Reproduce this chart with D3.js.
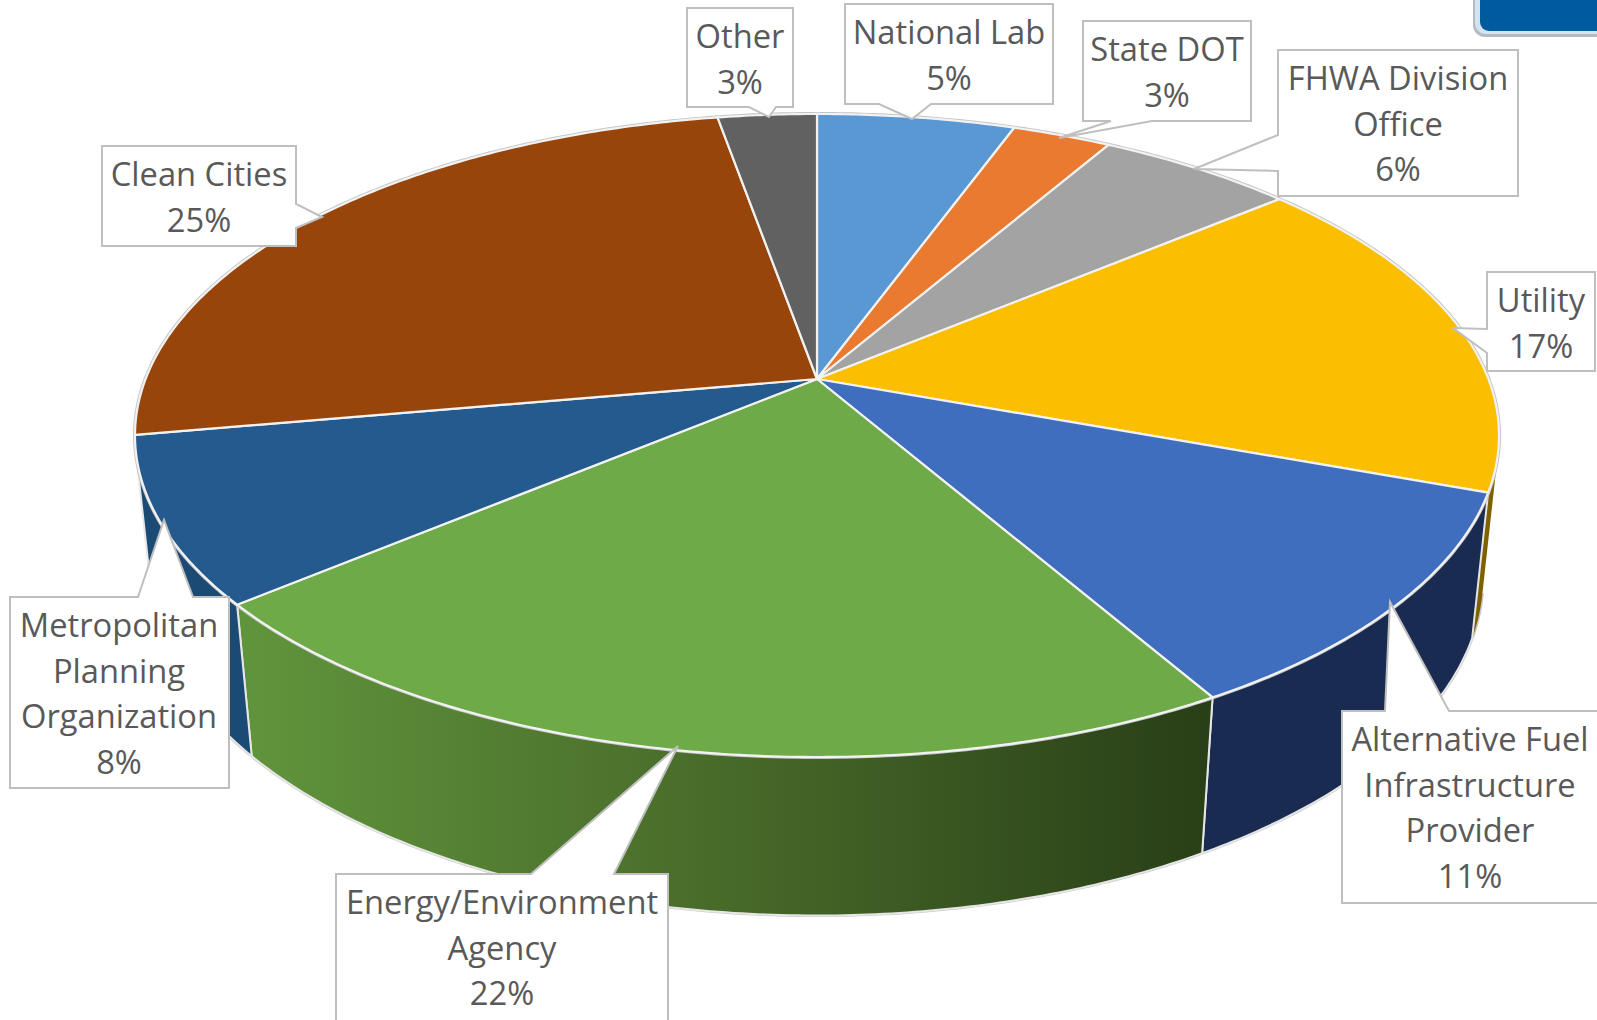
<!DOCTYPE html>
<html>
<head>
<meta charset="utf-8">
<script src="https://cdn.jsdelivr.net/npm/d3@7"></script>
<style>
  html, body { margin: 0; padding: 0; background: #fff; overflow: hidden; }
</style>
</head>
<body>
<div id="my_dataviz"></div>
<script>
// slice sizes (%), clockwise from 12 o'clock
const categories = ["National Lab", "State DOT", "FHWA Division Office", "Utility",
    "Alternative Fuel Infrastructure Provider", "Energy/Environment Agency",
    "Metropolitan Planning Organization", "Clean Cities", "Other"];
const values = [5.56, 2.78, 5.56, 16.67, 11.11, 22.22, 8.33, 25, 2.78];
const percentLabels = ["5%", "3%", "6%", "17%", "11%", "22%", "8%", "25%", "3%"];
const labelLines = [["National Lab"], ["State DOT"], ["FHWA Division", "Office"], ["Utility"],
    ["Alternative Fuel", "Infrastructure", "Provider"], ["Energy/Environment", "Agency"],
    ["Metropolitan", "Planning", "Organization"], ["Clean Cities"], ["Other"]];
const topColors = ["#5a98d4", "#ea7a2f", "#a3a3a3", "#fbbe00", "#406ebe", "#6eaa47", "#245a8d", "#98450c", "#616161"];
const wallColors = ["#37607f", "#8f4b1d", "#636363", "#7f6000", "#192b50", "url(#energyWall)", "#1b4a75", "#5f2c08", "#3b3b3b"];

const width = 1597, height = 1020;

// the pie is tilted with perspective, so disc coords go through a homography
const cx = 817, apexY = 379, fx = 671.4, fy = 311.6, k = 0.1757;
const baseW = 0.023, baseY = 143;

function project(angle, r, base) {
    const X = r * Math.sin(angle), Y = -r * Math.cos(angle);
    const w = 1 - k * Y + (base ? baseW : 0);
    return [cx + fx * X / w, apexY + (fy * Y + (base ? baseY : 0)) / w];
}

const line = d3.line();

function rimPoints(a0, a1, base) {
    const n = Math.max(2, Math.ceil((a1 - a0) / 0.01));
    return d3.range(n + 1).map(function(i) {
        return project(a0 + (a1 - a0) * i / n, 1, base);
    });
}

const arcs = d3.pie().sort(null).value(function(d) { return d; })(values);

const svg = d3.select("#my_dataviz")
    .append("svg")
    .attr("width", width)
    .attr("height", height)
    .style("display", "block");

const grad = svg.append("defs").append("linearGradient")
    .attr("id", "energyWall")
    .attr("gradientUnits", "userSpaceOnUse")
    .attr("x1", 250).attr("x2", 1205).attr("y1", 0).attr("y2", 0);
grad.append("stop").attr("offset", 0).attr("stop-color", "#60943c");
grad.append("stop").attr("offset", 0.45).attr("stop-color", "#4a6e2b");
grad.append("stop").attr("offset", 1).attr("stop-color", "#293f17");

// corner of the box cut off at the top right
svg.append("rect").attr("x", 1473).attr("y", -30).attr("width", 200).attr("height", 67)
    .attr("rx", 12).attr("fill", "#b4bcc2");
svg.append("rect").attr("x", 1475).attr("y", -30).attr("width", 200).attr("height", 64)
    .attr("rx", 11).attr("fill", "#d3e3ef");
svg.append("rect").attr("x", 1480).attr("y", -30).attr("width", 200).attr("height", 61)
    .attr("rx", 9).attr("fill", "#005a9e");

// walls first, only the part facing us (tangent to the rim, in radians)
const wallStart = 102.6 * Math.PI / 180, wallEnd = 257.4 * Math.PI / 180;

// grey outline round the whole wall and rim
svg.append("path")
    .attr("d", line(rimPoints(wallStart, wallEnd, true)))
    .attr("fill", "none")
    .attr("stroke", "#c8c8c8")
    .attr("stroke-width", 3);

arcs.forEach(function(d, i) {
    const a0 = Math.max(d.startAngle, wallStart), a1 = Math.min(d.endAngle, wallEnd);
    if (a1 <= a0) return;
    const pts = rimPoints(a0, a1, false).concat(rimPoints(a0, a1, true).reverse());
    svg.append("path")
        .attr("d", line(pts) + "Z")
        .attr("fill", wallColors[i])
        .attr("stroke", i == 4 || i == 5 || i == 6 ? "#e6e6e6" : "none")
        .attr("stroke-width", 2);
});

svg.append("path")
    .attr("d", line(rimPoints(0, Math.PI * 2, false)) + "Z")
    .attr("fill", "none")
    .attr("stroke", "#c4c4c4")
    .attr("stroke-width", 4);

// top face
arcs.forEach(function(d, i) {
    const pts = [project(0, 0, false)].concat(rimPoints(d.startAngle, d.endAngle, false));
    svg.append("path")
        .attr("d", line(pts) + "Z")
        .attr("fill", topColors[i])
        .attr("stroke", "#f2f2f2")
        .attr("stroke-width", 2.2)
        .attr("stroke-linejoin", "round");
});

// callouts: box [x0, y0, x1, y1], side the pointer leaves from, pointer [from, to, tipX, tipY]
const boxes = [
    [845, 4, 1053, 104], [1083, 21, 1251, 121], [1278, 50, 1518, 196], [1487, 272, 1595, 371],
    [1342, 711, 1640, 903], [336, 874, 668, 1060], [10, 597, 229, 788], [102, 146, 296, 246], [687, 8, 793, 107]
];
const pointers = [
    ["bottom", 879, 931, 912, 119], ["bottom", 1111, 1152, 1059, 138], ["left", 135, 171, 1194, 169],
    ["left", 329, 353, 1453, 328], ["top", 1385, 1449, 1390, 602], ["top", 531, 614, 678, 746],
    ["top", 138, 193, 164, 520], ["right", 204, 228, 322, 217], ["bottom", 749, 776, 769, 117]
];
const labelCenters = [949, 1167, 1398, 1541, 1470, 502, 119, 199, 740];

function calloutPath(b, p) {
    const x0 = b[0], y0 = b[1], x1 = b[2], y1 = b[3];
    const a = p[1], c = p[2], tip = [p[3], p[4]];
    let pts;
    if (p[0] == "top") pts = [[x0, y0], [a, y0], tip, [c, y0], [x1, y0], [x1, y1], [x0, y1]];
    if (p[0] == "bottom") pts = [[x0, y0], [x1, y0], [x1, y1], [c, y1], tip, [a, y1], [x0, y1]];
    if (p[0] == "left") pts = [[x0, y0], [x1, y0], [x1, y1], [x0, y1], [x0, c], tip, [x0, a]];
    if (p[0] == "right") pts = [[x0, y0], [x1, y0], [x1, a], tip, [x1, c], [x1, y1], [x0, y1]];
    return line(pts) + "Z";
}

categories.forEach(function(name, i) {
    const b = boxes[i];
    const g = svg.append("g");
    g.append("path")
        .attr("d", calloutPath(b, pointers[i]))
        .attr("fill", "#fff")
        .attr("stroke", "#bfbfbf")
        .attr("stroke-width", 2);
    const lines = labelLines[i].concat([percentLabels[i]]);
    const t = g.append("text")
        .attr("text-anchor", "middle")
        .attr("font-family", "'Open Sans', sans-serif")
        .attr("font-size", 32.7)
        .attr("fill", "#595959");
    lines.forEach(function(s, j) {
        t.append("tspan")
            .attr("x", labelCenters[i])
            .attr("y", b[1] + 40 + j * 45.6)
            .text(s);
    });
});
</script>
</body>
</html>
